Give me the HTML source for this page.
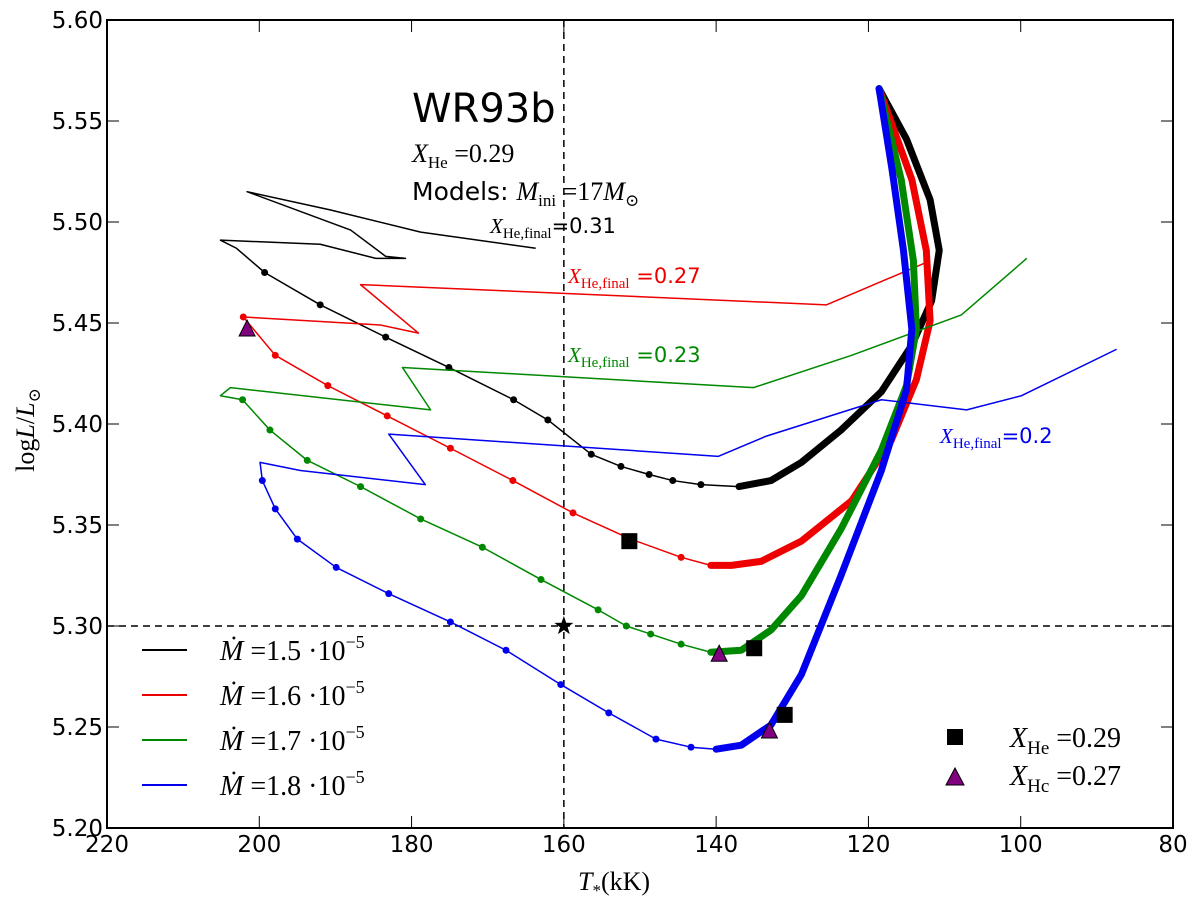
<!DOCTYPE html>
<html><head><meta charset="utf-8">
<style>
body{margin:0;background:#fff;}
svg text{font-family:"DejaVu Sans","Liberation Sans",sans-serif;}
svg .m, svg .m text, svg .m tspan, svg text.m, svg tspan.m{font-family:"Liberation Serif","DejaVu Serif",serif;}
</style></head>
<body>
<svg id="c" width="1200" height="904" viewBox="0 0 1200 904" xmlns="http://www.w3.org/2000/svg">
<rect width="1200" height="904" fill="#fff"/>
<g id="marks"></g>
<rect x="107" y="20" width="1066" height="808" fill="none" stroke="#000" stroke-width="2"/>
<g id="axes"></g>
<g>
<text x="412" y="122" font-size="40">WR93b</text>
<text x="412" y="162" font-size="26" class="m"><tspan font-style="italic">X</tspan><tspan font-size="17" dy="6">He</tspan><tspan dy="-6"> =0.29</tspan></text>
<text x="412" y="200" font-size="25">Models: <tspan class="m" font-style="italic" font-size="26">M</tspan><tspan class="m" font-size="17" dy="6">ini</tspan><tspan class="m" font-size="26" dy="-6"> =17</tspan><tspan class="m" font-style="italic" font-size="26">M</tspan><tspan class="m" font-size="17" dy="6">⊙</tspan></text>
<text x="490" y="233" font-size="21"><tspan class="m" font-style="italic">X</tspan><tspan class="m" font-size="15" dy="5">He,final</tspan><tspan dy="-5">=0.31</tspan></text>
<text x="568" y="283" font-size="21" fill="#e00"><tspan class="m" font-style="italic">X</tspan><tspan class="m" font-size="15" dy="5">He,final</tspan><tspan dy="-5"> =0.27</tspan></text>
<text x="568" y="362" font-size="21" fill="#080"><tspan class="m" font-style="italic">X</tspan><tspan class="m" font-size="15" dy="5">He,final</tspan><tspan dy="-5"> =0.23</tspan></text>
<text x="940" y="443" font-size="21" fill="#00e"><tspan class="m" font-style="italic">X</tspan><tspan class="m" font-size="15" dy="5">He,final</tspan><tspan dy="-5">=0.2</tspan></text>
</g>
<g class="m" font-size="28">
<line x1="142" y1="650" x2="187" y2="650" stroke="#000" stroke-width="2"/>
<text x="220" y="660"><tspan font-style="italic">Ṁ</tspan> =1.5 ·10<tspan font-size="18" dy="-12">−5</tspan></text>
<line x1="142" y1="695" x2="187" y2="695" stroke="#e00" stroke-width="2"/>
<text x="220" y="705"><tspan font-style="italic">Ṁ</tspan> =1.6 ·10<tspan font-size="18" dy="-12">−5</tspan></text>
<line x1="142" y1="740" x2="187" y2="740" stroke="#080" stroke-width="2"/>
<text x="220" y="750"><tspan font-style="italic">Ṁ</tspan> =1.7 ·10<tspan font-size="18" dy="-12">−5</tspan></text>
<line x1="142" y1="785" x2="187" y2="785" stroke="#00e" stroke-width="2"/>
<text x="220" y="795"><tspan font-style="italic">Ṁ</tspan> =1.8 ·10<tspan font-size="18" dy="-12">−5</tspan></text>
</g>
<g class="m" font-size="28">
<rect x="947" y="729" width="16" height="16" fill="#000"/>
<text x="1010" y="747"><tspan font-style="italic">X</tspan><tspan font-size="19" dy="7">He</tspan><tspan dy="-7"> =0.29</tspan></text>
<polygon points="955,768 946,785 964,785" fill="#800080" stroke="#000"/>
<text x="1010" y="785"><tspan font-style="italic">X</tspan><tspan font-size="19" dy="7">Hc</tspan><tspan dy="-7"> =0.27</tspan></text>
</g>
<text x="578" y="890" font-size="26" class="m"><tspan font-style="italic">T</tspan><tspan font-size="17" dy="6">*</tspan><tspan dy="-6">(kK)</tspan></text>
<text transform="translate(34,430) rotate(-90)" text-anchor="middle" font-size="26" class="m">log<tspan font-style="italic">L</tspan>/<tspan font-style="italic">L</tspan><tspan font-size="17" dy="6">⊙</tspan></text>
</svg>
<script>
const xTicks=[220,200,180,160,140,120,100,80];
const yTicks=[5.20,5.25,5.30,5.35,5.40,5.45,5.50,5.55,5.60];
const blackT=[163.7,178.8,190.7,201.6,188.0,183.4,180.8,184.7,192.0,205.1,203.0,199.3,192,183.4,175.1,166.6,162.1,156.4,152.5,148.8,145.7,142,137,132.8,128.8,123.6,118.3,114.3,111.7,110.7,111.9,115,118.6];
const blackL=[5.487,5.495,5.506,5.515,5.496,5.483,5.482,5.482,5.489,5.491,5.487,5.475,5.459,5.443,5.428,5.412,5.402,5.385,5.379,5.375,5.372,5.370,5.369,5.372,5.381,5.397,5.416,5.439,5.461,5.486,5.511,5.541,5.566];
const redT=[112.4,125.5,186.7,179.1,184.1,202.1,197.9,191,183.2,174.9,166.7,158.8,151.2,144.6,140.7,138,134.1,128.8,122.2,117,113.7,111.9,112.4,114.3,118.6];
const redL=[5.480,5.459,5.469,5.445,5.449,5.453,5.434,5.419,5.404,5.388,5.372,5.356,5.343,5.334,5.330,5.330,5.332,5.342,5.362,5.392,5.422,5.451,5.486,5.521,5.566];
const greenT=[99.2,107.8,122.2,135.1,181.2,177.5,203.8,205.1,202.2,198.6,193.7,186.7,178.8,170.7,163,155.5,151.8,148.6,144.6,140.7,136.7,132.8,128.8,123.6,118.3,115,113.7,114.1,115.7,118.6];
const greenL=[5.482,5.454,5.434,5.418,5.428,5.407,5.418,5.414,5.412,5.397,5.382,5.369,5.353,5.339,5.323,5.308,5.300,5.296,5.291,5.287,5.288,5.298,5.315,5.348,5.387,5.419,5.447,5.481,5.521,5.566];
const blueT=[87.4,99.9,107.1,118.3,133.4,139.7,183,178.2,194.6,199.9,199.6,197.9,195,189.9,183,174.9,167.6,160.4,154.1,147.9,143.3,140,136.7,132.8,128.8,123.6,118.3,115,114.3,115.4,116.9,118.6];
const blueL=[5.437,5.414,5.407,5.412,5.394,5.384,5.395,5.370,5.377,5.381,5.372,5.358,5.343,5.329,5.316,5.302,5.288,5.271,5.257,5.244,5.240,5.239,5.241,5.251,5.276,5.325,5.377,5.417,5.447,5.486,5.526,5.566];
const dotStart=[11,5,8,10];
const thickFrom=[141,141,141,141];
const squareT=[151.4,135,131];
const squareL=[5.342,5.289,5.256];
const triT=[201.6,139.6,133];
const triL=[5.447,5.286,5.248];
const starT=[160], starL=[5.30];
const NS='http://www.w3.org/2000/svg';
const X=t=>107+(220-t)*1066/140;
const Y=l=>828-(l-5.2)*808/0.4;
const marks=document.getElementById('marks'), axes=document.getElementById('axes');
function mk(tag,attrs,parent){const e=document.createElementNS(NS,tag);for(const k in attrs)e.setAttribute(k,attrs[k]);parent.appendChild(e);return e;}
xTicks.forEach(t=>{
  mk('line',{x1:X(t),y1:20,x2:X(t),y2:32,stroke:'#000'},axes);
  mk('line',{x1:X(t),y1:828,x2:X(t),y2:816,stroke:'#000'},axes);
  const tx=mk('text',{x:X(t),y:852,'text-anchor':'middle','font-size':23},axes);
  
  
  tx.textContent=t;
});
yTicks.forEach(l=>{
  mk('line',{x1:107,y1:Y(l),x2:119,y2:Y(l),stroke:'#000'},axes);
  mk('line',{x1:1173,y1:Y(l),x2:1161,y2:Y(l),stroke:'#000'},axes);
  const tx=mk('text',{x:103,y:Y(l)+8,'text-anchor':'end','font-size':23},axes);
  
  
  tx.textContent=l.toFixed(2);
});
const dl1=mk('line',{x1:X(160),y1:20,x2:X(160),y2:828,stroke:'#000','stroke-width':1.5,'stroke-dasharray':'7,5'},marks);


const dl2=mk('line',{x1:107,y1:Y(5.30),x2:1173,y2:Y(5.30),stroke:'#000','stroke-width':1.5,'stroke-dasharray':'7,5'},marks);


const series=[[blackT,blackL,'#000','black'],[redT,redL,'#e00','red'],[greenT,greenL,'#080','green'],[blueT,blueL,'#00e','blue']];
series.forEach(([T,L,c,n],si)=>{
  const pts=T.map((t,i)=>X(t)+','+Y(L[i])).join(' ');
  const p=mk('polyline',{points:pts,fill:'none',stroke:c,'stroke-width':1.5,'stroke-linejoin':'round'},marks);
  
  
  const thick=[];
  T.forEach((t,i)=>{if(i>=dotStart[si] && t<=thickFrom[si])thick.push(X(t)+','+Y(L[i]));});
  const tp=mk('polyline',{points:thick.join(' '),fill:'none',stroke:c,'stroke-width':7,'stroke-linejoin':'round','stroke-linecap':'round'},marks);
  
  
  T.forEach((t,i)=>{if(i>=dotStart[si] && t>thickFrom[si]){
    const d=mk('circle',{cx:X(t),cy:Y(L[i]),r:3.5,fill:c},marks);
    
    
  }});
});
squareT.forEach((t,i)=>{
  const s=mk('rect',{x:X(t)-8,y:Y(squareL[i])-8,width:16,height:16,fill:'#000'},marks);
  
  
});
triT.forEach((t,i)=>{
  const x=X(t),y=Y(triL[i]);
  const s=mk('polygon',{points:`${x},${y-9} ${x-8},${y+7} ${x+8},${y+7}`,fill:'#800080',stroke:'#000'},marks);
  
  
});
starT.forEach((t,i)=>{
  const x=X(t),y=Y(starL[i]);let p=[];
  for(let k=0;k<10;k++){const r=k%2?4:10,a=-Math.PI/2+k*Math.PI/5;p.push((x+r*Math.cos(a))+','+(y+r*Math.sin(a)));}
  const s=mk('polygon',{points:p.join(' '),fill:'#000'},marks);
  
  
});
</script>
</body></html>
